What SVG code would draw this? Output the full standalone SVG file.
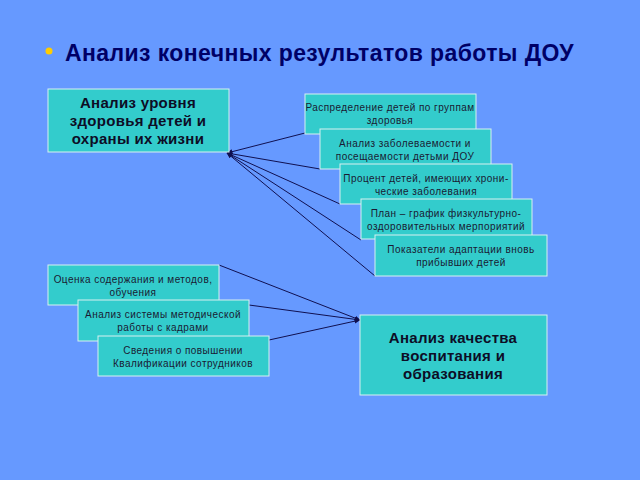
<svg xmlns="http://www.w3.org/2000/svg" width="640" height="480" viewBox="0 0 640 480">
<defs>
<style>
.b{fill:#33cccc;stroke:#d8f0f0;stroke-width:1}
.t{font-family:"Liberation Sans",Arial,sans-serif;font-size:10px;letter-spacing:0.45px;fill:#1a1a33;text-anchor:middle}
.bt{font-family:"Liberation Sans",Arial,sans-serif;font-size:15px;letter-spacing:0.3px;font-weight:bold;fill:#0d0d26;text-anchor:middle}
.c line{stroke:#101050;stroke-width:1;marker-end:url(#a)}
</style>
<marker id="a" viewBox="0 0 10 10" refX="9" refY="5" markerWidth="6" markerHeight="6" orient="auto"><path d="M0,1 L10,5 L0,9z" fill="#101050"/></marker>
</defs>
<rect width="640" height="480" fill="#6699ff"/>
<circle cx="49" cy="51" r="3.5" fill="#ffcc00"/>
<text x="65" y="61" font-family="Liberation Sans,Arial,sans-serif" font-size="23" letter-spacing="0.4" font-weight="bold" fill="#000066">Анализ конечных результатов работы ДОУ</text>
<g class="c">
<line x1="305" y1="133" x2="227" y2="153"/>
<line x1="320" y1="169" x2="227" y2="153"/>
<line x1="340" y1="204" x2="227" y2="153"/>
<line x1="361" y1="240" x2="227" y2="153"/>
<line x1="375" y1="276" x2="227" y2="153"/>
<line x1="219" y1="265" x2="360" y2="320"/>
<line x1="249" y1="305" x2="360" y2="320"/>
<line x1="269" y1="340" x2="360" y2="320"/>
</g>
<g id="n1"><rect class="b" x="48" y="89" width="181" height="63"/><text class="bt" x="138" y="108">Анализ уровня</text><text class="bt" x="138" y="126">здоровья детей и</text><text class="bt" x="138" y="144">охраны их жизни</text></g>
<g id="s1"><rect class="b" x="305" y="94" width="171" height="40"/><text class="t" x="390" y="111">Распределение  детей по группам</text><text class="t" x="390" y="124">здоровья</text></g>
<g id="s2"><rect class="b" x="320" y="129" width="171" height="40"/><text class="t" x="405" y="147">Анализ  заболеваемости и</text><text class="t" x="405" y="160">посещаемости детьми ДОУ</text></g>
<g id="s3"><rect class="b" x="340" y="164" width="172" height="40"/><text class="t" x="426" y="182">Процент детей, имеющих хрони-</text><text class="t" x="426" y="195">ческие заболевания</text></g>
<g id="s4"><rect class="b" x="361" y="199" width="171" height="40"/><text class="t" x="446" y="217">План – график физкультурно-</text><text class="t" x="446" y="230">оздоровительных мерпориятий</text></g>
<g id="s5"><rect class="b" x="375" y="235" width="172" height="41"/><text class="t" x="461" y="253">Показатели  адаптации вновь</text><text class="t" x="461" y="266">прибывших детей</text></g>
<g id="c1"><rect class="b" x="48" y="265" width="171" height="40"/><text class="t" x="133" y="283">Оценка содержания и методов,</text><text class="t" x="133" y="296">обучения</text></g>
<g id="c2"><rect class="b" x="78" y="300" width="171" height="41"/><text class="t" x="163" y="318">Анализ системы методической</text><text class="t" x="163" y="331">работы с кадрами</text></g>
<g id="c3"><rect class="b" x="98" y="336" width="171" height="40"/><text class="t" x="183" y="354">Сведения о повышении</text><text class="t" x="183" y="367">Квалификации сотрудников</text></g>
<g id="n2"><rect class="b" x="360" y="315" width="187" height="80"/><text class="bt" x="453" y="343">Анализ качества</text><text class="bt" x="453" y="361">воспитания и</text><text class="bt" x="453" y="379">образования</text></g>
</svg>
